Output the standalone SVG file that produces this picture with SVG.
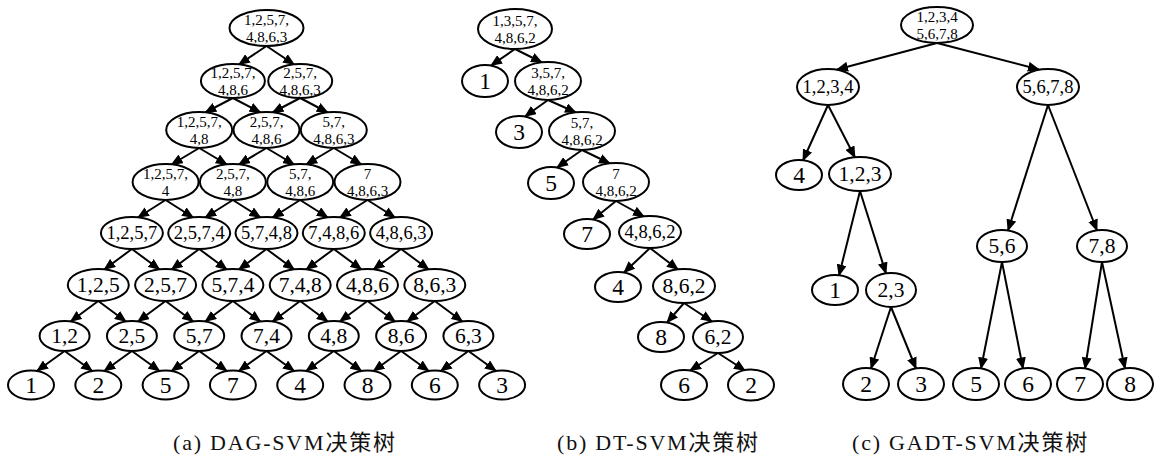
<svg xmlns="http://www.w3.org/2000/svg" width="1160" height="464" viewBox="0 0 1160 464">
<style>
.n ellipse{fill:#fff;stroke:#000;stroke-width:2}
.n text{font-family:"Liberation Serif","Times New Roman",Tinos,"DejaVu Serif",serif;fill:#000;text-anchor:middle;dominant-baseline:central}
.s15{font-size:15px}.s18{font-size:18.5px}.s21{font-size:21.5px}.s23{font-size:23.5px}
.e path{stroke:#000;stroke-width:2;fill:none;marker-end:url(#ah)}
.cap{font-family:"Liberation Serif","Times New Roman",Tinos,"Noto Sans CJK SC",serif;font-size:22px;letter-spacing:1.8px;fill:#111}
</style>
<defs>
<marker id="ah" viewBox="0 0 12 10" refX="11" refY="5" markerWidth="12" markerHeight="10" markerUnits="userSpaceOnUse" orient="auto">
<path d="M0,0 L12,5 L0,10 z" fill="#000"/>
</marker>
</defs>
<rect width="1160" height="464" fill="#fff"/>

<g id="connectors" class="e">
<!-- DAG -->
<path d="M266.5,46 L238.85,64.5"/><path d="M266.5,46 L294.15,64.5"/>
<path d="M232.85,98 L205.2,112.5"/><path d="M232.85,98 L260.5,112.5"/>
<path d="M300.15,98 L272.5,112.5"/><path d="M300.15,98 L327.8,112.5"/>
<path d="M199.2,148 L171.55,164.5"/><path d="M199.2,148 L226.85,164.5"/>
<path d="M266.5,148 L238.85,164.5"/><path d="M266.5,148 L294.15,164.5"/>
<path d="M333.8,148 L306.15,164.5"/><path d="M333.8,148 L361.45,164.5"/>
<path d="M165.55,200 L137.9,217.5"/><path d="M165.55,200 L193.2,217.5"/>
<path d="M232.85,200 L205.2,217.5"/><path d="M232.85,200 L260.5,217.5"/>
<path d="M300.15,200 L272.5,217.5"/><path d="M300.15,200 L327.8,217.5"/>
<path d="M367.45,200 L339.8,217.5"/><path d="M367.45,200 L395.1,217.5"/>
<path d="M131.9,249 L104.25,269.5"/><path d="M131.9,249 L159.55,269.5"/>
<path d="M199.2,249 L171.55,269.5"/><path d="M199.2,249 L226.85,269.5"/>
<path d="M266.5,249 L238.85,269.5"/><path d="M266.5,249 L294.15,269.5"/>
<path d="M333.8,249 L306.15,269.5"/><path d="M333.8,249 L361.45,269.5"/>
<path d="M401.1,249 L373.45,269.5"/><path d="M401.1,249 L428.75,269.5"/>
<path d="M98.25,301 L70.6,321.5"/><path d="M98.25,301 L125.9,321.5"/>
<path d="M165.55,301 L137.9,321.5"/><path d="M165.55,301 L193.2,321.5"/>
<path d="M232.85,301 L205.2,321.5"/><path d="M232.85,301 L260.5,321.5"/>
<path d="M300.15,301 L272.5,321.5"/><path d="M300.15,301 L327.8,321.5"/>
<path d="M367.45,301 L339.8,321.5"/><path d="M367.45,301 L395.1,321.5"/>
<path d="M434.75,301 L407.1,321.5"/><path d="M434.75,301 L462.4,321.5"/>
<path d="M64.6,351 L36.95,371"/><path d="M64.6,351 L92.25,371"/>
<path d="M131.9,351 L104.25,371"/><path d="M131.9,351 L159.55,371"/>
<path d="M199.2,351 L171.55,371"/><path d="M199.2,351 L226.85,371"/>
<path d="M266.5,351 L238.85,371"/><path d="M266.5,351 L294.15,371"/>
<path d="M333.8,351 L306.15,371"/><path d="M333.8,351 L361.45,371"/>
<path d="M401.1,351 L373.45,371"/><path d="M401.1,351 L428.75,371"/>
<path d="M468.4,351 L440.75,371"/><path d="M468.4,351 L496.05,371"/>
<!-- DT -->
<path d="M515,49 L491,65.5"/><path d="M515,49 L542,62.5"/>
<path d="M548,100 L525,116.5"/><path d="M548,100 L576,112.5"/>
<path d="M582,150 L557,167.5"/><path d="M582,150 L610,163.5"/>
<path d="M616,201 L593,219.5"/><path d="M616,201 L644,216.5"/>
<path d="M650,248 L624,272.5"/><path d="M650,248 L678,269.5"/>
<path d="M684,303 L667,322.5"/><path d="M684,303 L712,321.5"/>
<path d="M718,353 L690,370.5"/><path d="M718,353 L745,370.5"/>
<!-- GADT -->
<path d="M937,43 L837,69.5"/><path d="M937,43 L1039,69.5"/>
<path d="M828,105 L803,160.5"/><path d="M828,105 L855,157.5"/>
<path d="M1048,105 L1008,230.5"/><path d="M1048,105 L1097,230.5"/>
<path d="M860,191 L839,275.5"/><path d="M860,191 L886,273.5"/>
<path d="M891,307 L871,368.5"/><path d="M891,307 L916,368.5"/>
<path d="M1002,262 L981,368.5"/><path d="M1002,262 L1023,368.5"/>
<path d="M1102,262 L1085,368.5"/><path d="M1102,262 L1125,368.5"/>
</g>

<!-- DAG-SVM nodes -->
<g id="dag-0-0" class="n"><ellipse cx="266.5" cy="28" rx="37" ry="18"/><text class="s15"><tspan x="266.5" y="20">1,2,5,7,</tspan><tspan x="266.5" y="37">4,8,6,3</tspan></text></g>
<g id="dag-1-0" class="n"><ellipse cx="232.9" cy="81" rx="32" ry="17"/><text class="s15"><tspan x="232.9" y="73">1,2,5,7,</tspan><tspan x="232.9" y="90">4,8,6</tspan></text></g>
<g id="dag-1-1" class="n"><ellipse cx="300.2" cy="81" rx="32" ry="17"/><text class="s15"><tspan x="300.2" y="73">2,5,7,</tspan><tspan x="300.2" y="90">4,8,6,3</tspan></text></g>
<g id="dag-2-0" class="n"><ellipse cx="199.2" cy="130" rx="33" ry="18"/><text class="s15"><tspan x="199.2" y="122">1,2,5,7,</tspan><tspan x="199.2" y="139">4,8</tspan></text></g>
<g id="dag-2-1" class="n"><ellipse cx="266.5" cy="130" rx="33" ry="18"/><text class="s15"><tspan x="266.5" y="122">2,5,7,</tspan><tspan x="266.5" y="139">4,8,6</tspan></text></g>
<g id="dag-2-2" class="n"><ellipse cx="333.8" cy="130" rx="33" ry="18"/><text class="s15"><tspan x="333.8" y="122">5,7,</tspan><tspan x="333.8" y="139">4,8,6,3</tspan></text></g>
<g id="dag-3-0" class="n"><ellipse cx="165.6" cy="182" rx="33" ry="18"/><text class="s15"><tspan x="165.6" y="174">1,2,5,7,</tspan><tspan x="165.6" y="191">4</tspan></text></g>
<g id="dag-3-1" class="n"><ellipse cx="232.9" cy="182" rx="33" ry="18"/><text class="s15"><tspan x="232.9" y="174">2,5,7,</tspan><tspan x="232.9" y="191">4,8</tspan></text></g>
<g id="dag-3-2" class="n"><ellipse cx="300.2" cy="182" rx="33" ry="18"/><text class="s15"><tspan x="300.2" y="174">5,7,</tspan><tspan x="300.2" y="191">4,8,6</tspan></text></g>
<g id="dag-3-3" class="n"><ellipse cx="367.5" cy="182" rx="33" ry="18"/><text class="s15"><tspan x="367.5" y="174">7</tspan><tspan x="367.5" y="191">4,8,6,3</tspan></text></g>
<g id="dag-4-0" class="n"><ellipse cx="131.9" cy="233" rx="31" ry="16"/><text class="s18" x="131.9" y="233">1,2,5,7</text></g>
<g id="dag-4-1" class="n"><ellipse cx="199.2" cy="233" rx="31" ry="16"/><text class="s18" x="199.2" y="233">2,5,7,4</text></g>
<g id="dag-4-2" class="n"><ellipse cx="266.5" cy="233" rx="31" ry="16"/><text class="s18" x="266.5" y="233">5,7,4,8</text></g>
<g id="dag-4-3" class="n"><ellipse cx="333.8" cy="233" rx="31" ry="16"/><text class="s18" x="333.8" y="233">7,4,8,6</text></g>
<g id="dag-4-4" class="n"><ellipse cx="401.1" cy="233" rx="31" ry="16"/><text class="s18" x="401.1" y="233">4,8,6,3</text></g>
<g id="dag-5-0" class="n"><ellipse cx="98.3" cy="285" rx="30.5" ry="16"/><text class="s21" x="98.3" y="285">1,2,5</text></g>
<g id="dag-5-1" class="n"><ellipse cx="165.6" cy="285" rx="30.5" ry="16"/><text class="s21" x="165.6" y="285">2,5,7</text></g>
<g id="dag-5-2" class="n"><ellipse cx="232.9" cy="285" rx="30.5" ry="16"/><text class="s21" x="232.9" y="285">5,7,4</text></g>
<g id="dag-5-3" class="n"><ellipse cx="300.2" cy="285" rx="30.5" ry="16"/><text class="s21" x="300.2" y="285">7,4,8</text></g>
<g id="dag-5-4" class="n"><ellipse cx="367.5" cy="285" rx="30.5" ry="16"/><text class="s21" x="367.5" y="285">4,8,6</text></g>
<g id="dag-5-5" class="n"><ellipse cx="434.8" cy="285" rx="30.5" ry="16"/><text class="s21" x="434.8" y="285">8,6,3</text></g>
<g id="dag-6-0" class="n"><ellipse cx="64.6" cy="336" rx="25" ry="15"/><text class="s21" x="64.6" y="336">1,2</text></g>
<g id="dag-6-1" class="n"><ellipse cx="131.9" cy="336" rx="25" ry="15"/><text class="s21" x="131.9" y="336">2,5</text></g>
<g id="dag-6-2" class="n"><ellipse cx="199.2" cy="336" rx="25" ry="15"/><text class="s21" x="199.2" y="336">5,7</text></g>
<g id="dag-6-3" class="n"><ellipse cx="266.5" cy="336" rx="25" ry="15"/><text class="s21" x="266.5" y="336">7,4</text></g>
<g id="dag-6-4" class="n"><ellipse cx="333.8" cy="336" rx="25" ry="15"/><text class="s21" x="333.8" y="336">4,8</text></g>
<g id="dag-6-5" class="n"><ellipse cx="401.1" cy="336" rx="25" ry="15"/><text class="s21" x="401.1" y="336">8,6</text></g>
<g id="dag-6-6" class="n"><ellipse cx="468.4" cy="336" rx="25" ry="15"/><text class="s21" x="468.4" y="336">6,3</text></g>
<g id="dag-7-0" class="n"><ellipse cx="31" cy="385" rx="23" ry="14.5"/><text class="s23" x="31" y="385">1</text></g>
<g id="dag-7-1" class="n"><ellipse cx="98.3" cy="385" rx="23" ry="14.5"/><text class="s23" x="98.3" y="385">2</text></g>
<g id="dag-7-2" class="n"><ellipse cx="165.6" cy="385" rx="23" ry="14.5"/><text class="s23" x="165.6" y="385">5</text></g>
<g id="dag-7-3" class="n"><ellipse cx="232.9" cy="385" rx="23" ry="14.5"/><text class="s23" x="232.9" y="385">7</text></g>
<g id="dag-7-4" class="n"><ellipse cx="300.2" cy="385" rx="23" ry="14.5"/><text class="s23" x="300.2" y="385">4</text></g>
<g id="dag-7-5" class="n"><ellipse cx="367.5" cy="385" rx="23" ry="14.5"/><text class="s23" x="367.5" y="385">8</text></g>
<g id="dag-7-6" class="n"><ellipse cx="434.8" cy="385" rx="23" ry="14.5"/><text class="s23" x="434.8" y="385">6</text></g>
<g id="dag-7-7" class="n"><ellipse cx="502.1" cy="385" rx="23" ry="14.5"/><text class="s23" x="502.1" y="385">3</text></g>

<!-- DT-SVM nodes -->
<g id="dt-13574862" class="n"><ellipse cx="515" cy="29" rx="37" ry="20"/><text class="s15"><tspan x="515" y="21">1,3,5,7,</tspan><tspan x="515" y="38">4,8,6,2</tspan></text></g>
<g id="dt-1" class="n"><ellipse cx="485" cy="81" rx="23" ry="16"/><text class="s23" x="485" y="81">1</text></g>
<g id="dt-3574862" class="n"><ellipse cx="548" cy="81" rx="33" ry="19"/><text class="s15"><tspan x="548" y="73">3,5,7,</tspan><tspan x="548" y="90">4,8,6,2</tspan></text></g>
<g id="dt-3" class="n"><ellipse cx="519" cy="132" rx="23" ry="16"/><text class="s23" x="519" y="132">3</text></g>
<g id="dt-574862" class="n"><ellipse cx="582" cy="131" rx="33" ry="19"/><text class="s15"><tspan x="582" y="123">5,7,</tspan><tspan x="582" y="140">4,8,6,2</tspan></text></g>
<g id="dt-5" class="n"><ellipse cx="551" cy="183" rx="23" ry="16"/><text class="s23" x="551" y="183">5</text></g>
<g id="dt-74862" class="n"><ellipse cx="616" cy="182" rx="33" ry="19"/><text class="s15"><tspan x="616" y="174">7</tspan><tspan x="616" y="191">4,8,6,2</tspan></text></g>
<g id="dt-7" class="n"><ellipse cx="587" cy="234" rx="23" ry="15"/><text class="s23" x="587" y="234">7</text></g>
<g id="dt-4862" class="n"><ellipse cx="650" cy="232" rx="31" ry="16"/><text class="s18" x="650" y="232">4,8,6,2</text></g>
<g id="dt-4" class="n"><ellipse cx="618" cy="287" rx="23" ry="15"/><text class="s23" x="618" y="287">4</text></g>
<g id="dt-862" class="n"><ellipse cx="684" cy="286" rx="31" ry="17"/><text class="s21" x="684" y="286">8,6,2</text></g>
<g id="dt-8" class="n"><ellipse cx="661" cy="337" rx="23" ry="15"/><text class="s23" x="661" y="337">8</text></g>
<g id="dt-62" class="n"><ellipse cx="718" cy="337" rx="25" ry="16"/><text class="s21" x="718" y="337">6,2</text></g>
<g id="dt-6" class="n"><ellipse cx="684" cy="385" rx="23" ry="15"/><text class="s23" x="684" y="385">6</text></g>
<g id="dt-2" class="n"><ellipse cx="751" cy="385" rx="23" ry="15.5"/><text class="s23" x="751" y="385">2</text></g>

<!-- GADT-SVM nodes -->
<g id="gadt-12345678" class="n"><ellipse cx="937" cy="25" rx="36" ry="18"/><text class="s15"><tspan x="937" y="17">1,2,3,4</tspan><tspan x="937" y="34">5,6,7,8</tspan></text></g>
<g id="gadt-1234" class="n"><ellipse cx="828" cy="87" rx="31" ry="18"/><text class="s18" x="828" y="87">1,2,3,4</text></g>
<g id="gadt-5678" class="n"><ellipse cx="1048" cy="87" rx="31" ry="18"/><text class="s18" x="1048" y="87">5,6,7,8</text></g>
<g id="gadt-4" class="n"><ellipse cx="799" cy="175" rx="23" ry="15"/><text class="s23" x="799" y="175">4</text></g>
<g id="gadt-123" class="n"><ellipse cx="860" cy="174" rx="31" ry="17"/><text class="s21" x="860" y="174">1,2,3</text></g>
<g id="gadt-56" class="n"><ellipse cx="1002" cy="246" rx="25" ry="16"/><text class="s21" x="1002" y="246">5,6</text></g>
<g id="gadt-78" class="n"><ellipse cx="1102" cy="246" rx="25" ry="16"/><text class="s21" x="1102" y="246">7,8</text></g>
<g id="gadt-1" class="n"><ellipse cx="835" cy="290" rx="23" ry="15"/><text class="s23" x="835" y="290">1</text></g>
<g id="gadt-23" class="n"><ellipse cx="891" cy="290" rx="25" ry="17"/><text class="s21" x="891" y="290">2,3</text></g>
<g id="gadt-2" class="n"><ellipse cx="866" cy="384" rx="23" ry="16"/><text class="s23" x="866" y="384">2</text></g>
<g id="gadt-3" class="n"><ellipse cx="921" cy="384" rx="23" ry="16"/><text class="s23" x="921" y="384">3</text></g>
<g id="gadt-5" class="n"><ellipse cx="976" cy="384" rx="23" ry="16"/><text class="s23" x="976" y="384">5</text></g>
<g id="gadt-6" class="n"><ellipse cx="1028" cy="384" rx="23" ry="16"/><text class="s23" x="1028" y="384">6</text></g>
<g id="gadt-7" class="n"><ellipse cx="1080" cy="384" rx="23" ry="16"/><text class="s23" x="1080" y="384">7</text></g>
<g id="gadt-8" class="n"><ellipse cx="1130" cy="384" rx="23" ry="16"/><text class="s23" x="1130" y="384">8</text></g>

<g id="captions">
<text class="cap" x="173" y="450">(a) DAG-SVM决策树</text>
<text class="cap" x="557" y="450">(b) DT-SVM决策树</text>
<text class="cap" x="852" y="450">(c) GADT-SVM决策树</text>
</g>
</svg>
